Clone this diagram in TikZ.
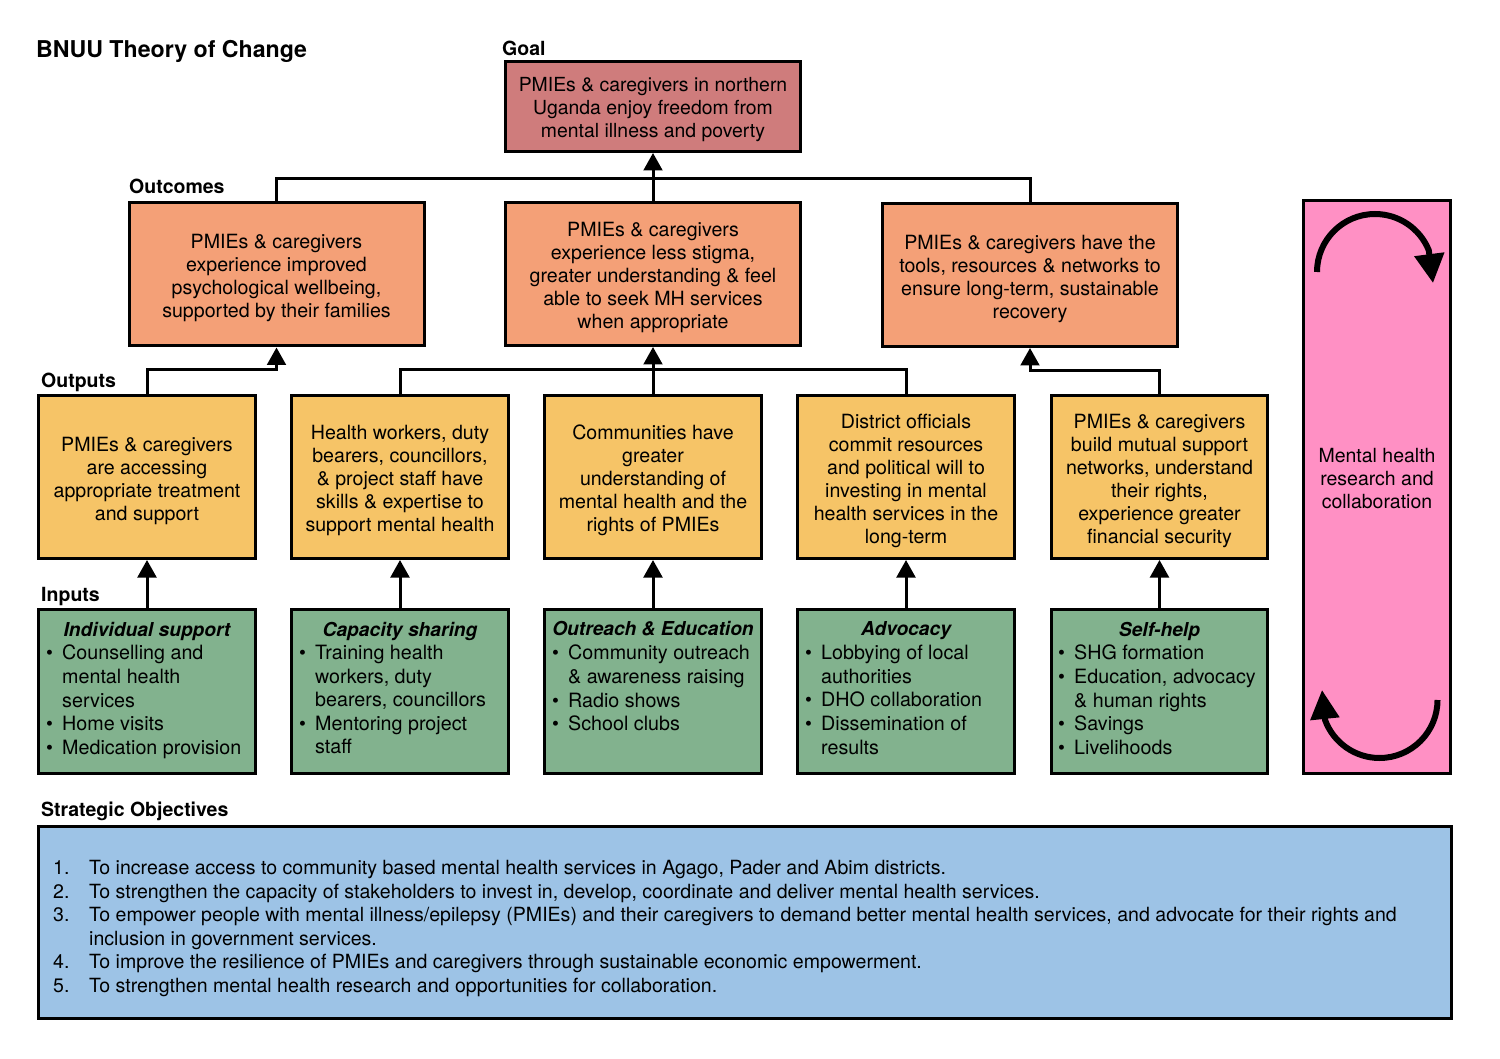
\documentclass[tikz,border=0pt]{standalone}
\usepackage{fontspec}
\setmainfont{TeX Gyre Heros}
\usetikzlibrary{arrows.meta}
\newcommand{\bl}[1]{\makebox[24pt][l]{\hspace*{8pt}•}#1}
\newcommand{\ct}[1]{\hspace*{24pt}#1}
\newcommand{\intext}[2]{\node[boxtext] (#1t) at ([yshift=-3.5pt]#1.center) {#2};}
\definecolor{goalc}{HTML}{CF7C7C}
\definecolor{outcomec}{HTML}{F4A077}
\definecolor{outputc}{HTML}{F6C467}
\definecolor{inputc}{HTML}{82B28E}
\definecolor{pinkc}{HTML}{FF90C4}
\definecolor{bluec}{HTML}{9DC3E6}
\tikzset{
 x=1pt,y=-1pt,
 box/.style={draw=black,line width=3pt,inner sep=0pt},
 boxtext/.style={align=center,inner sep=0pt,font=\fontsize{19.6}{23}\selectfont},
 goalbox/.style={box,fill=goalc,minimum width=295pt,minimum height=90pt},
 outcomebox/.style={box,fill=outcomec,minimum width=295pt,minimum height=143pt},
 outputbox/.style={box,fill=outputc,minimum width=216.7pt,minimum height=163pt},
 inputbox/.style={box,fill=inputc,minimum width=216.7pt,minimum height=164pt},
 headlabel/.style={font=\fontsize{19.5}{23}\selectfont\bfseries,inner sep=0pt,anchor=west},
 inhead/.style={font=\fontsize{19.2}{23}\selectfont\bfseries\itshape,inner sep=0pt},
 inbody/.style={font=\fontsize{19.7}{23.6}\selectfont,align=left,inner sep=0pt,anchor=north west},
 conn/.style={draw=black,line width=3pt},
 arr/.style={conn,-{Triangle[length=17.5pt,width=18.7pt]}},
 cycle/.style={draw=black,line width=6pt},
}
\begin{document}
\begin{tikzpicture}
\useasboundingbox (0,0) rectangle (1500,1059);
\node[font=\fontsize{23.15}{28}\selectfont\bfseries,inner sep=0pt,anchor=west] (title) at (36,51) {BNUU Theory of Change};
\node[headlabel] (lgoal) at (502,48) {Goal};
\node[headlabel] (loutcomes) at (129,186) {Outcomes};
\node[headlabel] (loutputs) at (41,382) {Outputs};
\node[headlabel] (linputs) at (41,597) {Inputs};
\node[headlabel] (lso) at (41,811) {Strategic Objectives};

\node[goalbox] (goal) at (653,106.5) {};
\node[boxtext,font=\fontsize{19.4}{23}\selectfont] (goalt) at ([yshift=-3.5pt]goal.center) {PMIEs \& caregivers in northern\\Uganda enjoy freedom from\\mental illness and poverty};

\node[outcomebox] (oc1) at (276.5,274.5) {};
\intext{oc1}{PMIEs \& caregivers\\experience improved\\psychological wellbeing,\\supported by their families}
\node[outcomebox] (oc2) at (653,274) {};
\intext{oc2}{PMIEs \& caregivers\\experience less stigma,\\greater understanding \& feel\\able to seek MH services\\when appropriate}
\node[outcomebox] (oc3) at (1030,275) {};
\intext{oc3}{PMIEs \& caregivers have the\\tools, resources \& networks to\\ensure long-term, sustainable\\recovery}

\node[outputbox] (op1) at (147,477) {};
\intext{op1}{PMIEs \& caregivers\\are accessing\\appropriate treatment\\and support}
\node[outputbox] (op2) at (400,477) {};
\intext{op2}{Health workers, duty\\bearers, councillors,\\\& project staff have\\skills \& expertise to\\support mental health}
\node[outputbox] (op3) at (653,477) {};
\intext{op3}{Communities have\\greater\\understanding of\\mental health and the\\rights of PMIEs}
\node[outputbox] (op4) at (906,477) {};
\intext{op4}{District officials\\commit resources\\and political will to\\investing in mental\\health services in the\\long-term}
\node[outputbox] (op5) at (1159.5,477) {};
\intext{op5}{PMIEs \& caregivers\\build mutual support\\networks, understand\\their rights,\\experience greater\\financial security}

\node[inputbox] (ip1) at (147,691.5) {};
\node[inputbox] (ip2) at (400,691.5) {};
\node[inputbox] (ip3) at (653,691.5) {};
\node[inputbox] (ip4) at (906,691.5) {};
\node[inputbox] (ip5) at (1159.5,691.5) {};

\node[inhead] (h1) at (147,631) {Individual support};
\node[inhead] (h2) at (400,631) {Capacity sharing};
\node[inhead] (h3) at (653,629) {Outreach \& Education};
\node[inhead] (h4) at (906,631) {Advocacy};
\node[inhead] (h5) at (1159.5,631) {Self-help};

\node[inbody] (b1) at (38,645) {\bl{Counselling and}\\\ct{mental health}\\\ct{services}\\\bl{Home visits}\\\bl{Medication provision}};
\node[inbody] (b2) at (291,645) {\bl{Training health}\\\ct{workers, duty}\\\ct{bearers, councillors}\\\bl{Mentoring project}\\\ct{staff}};
\node[inbody] (b3) at (544,645) {\bl{Community outreach}\\\ct{\& awareness raising}\\\bl{Radio shows}\\\bl{School clubs}};
\node[inbody] (b4) at (797,645) {\bl{Lobbying of local}\\\ct{authorities}\\\bl{DHO collaboration}\\\bl{Dissemination of}\\\ct{results}};
\node[inbody] (b5) at (1050,645) {\bl{SHG formation}\\\bl{Education, advocacy}\\\ct{\& human rights}\\\bl{Savings}\\\bl{Livelihoods}};

\node[box,fill=pinkc,minimum width=147pt,minimum height=573pt] (pink) at (1377,487) {};
\node[font=\fontsize{19.5}{23}\selectfont,align=center,inner sep=0pt] (pinktext) at (1377,478.5) {Mental health\\research and\\collaboration};
\draw[cycle,-{Triangle[length=29pt,width=29pt]}] (1317,272) arc[start angle=180,end angle=338,radius=58] -- (1433,283);
\draw[cycle,-{Triangle[length=29pt,width=28pt]}] (1437.5,700) arc[start angle=0,end angle=160,radius=58] -- (1322,690);

\node[box,fill=bluec,minimum width=1413pt,minimum height=192pt] (blue) at (745,922.5) {};
\node[font=\fontsize{19.55}{23.6}\selectfont,align=left,inner sep=0pt,anchor=north west] (sotext) at (53,860) {\makebox[36pt][l]{1.}To increase access to community based mental health services in Agago, Pader and Abim districts.\\
\makebox[36pt][l]{2.}To strengthen the capacity of stakeholders to invest in, develop, coordinate and deliver mental health services.\\
\makebox[36pt][l]{3.}To empower people with mental illness/epilepsy (PMIEs) and their caregivers to demand better mental health services, and advocate for their rights and\\
\hspace*{36pt}inclusion in government services.\\
\makebox[36pt][l]{4.}To improve the resilience of PMIEs and caregivers through sustainable economic empowerment.\\
\makebox[36pt][l]{5.}To strengthen mental health research and opportunities for collaboration.};

% connectors
\coordinate (jt) at (653,179);
\draw[conn] (oc1.north) |- (jt);
\draw[conn] (oc3.north) |- (jt);
\draw[arr] (oc2.north) -- (goal.south);

\coordinate (jm) at (653,370);
\draw[arr] (op1.north) |- (276.5,369.3) -- (oc1.south);
\draw[conn] (op2.north) |- (jm);
\draw[conn] (op4.north) |- (jm);
\draw[arr] (op3.north) -- (oc2.south);
\draw[arr] (op5.north) |- (1030,370.5) -- (oc3.south);

\draw[arr] (ip1.north) -- (op1.south);
\draw[arr] (ip2.north) -- (op2.south);
\draw[arr] (ip3.north) -- (op3.south);
\draw[arr] (ip4.north) -- (op4.south);
\draw[arr] (ip5.north) -- (op5.south);
\end{tikzpicture}
\end{document}
